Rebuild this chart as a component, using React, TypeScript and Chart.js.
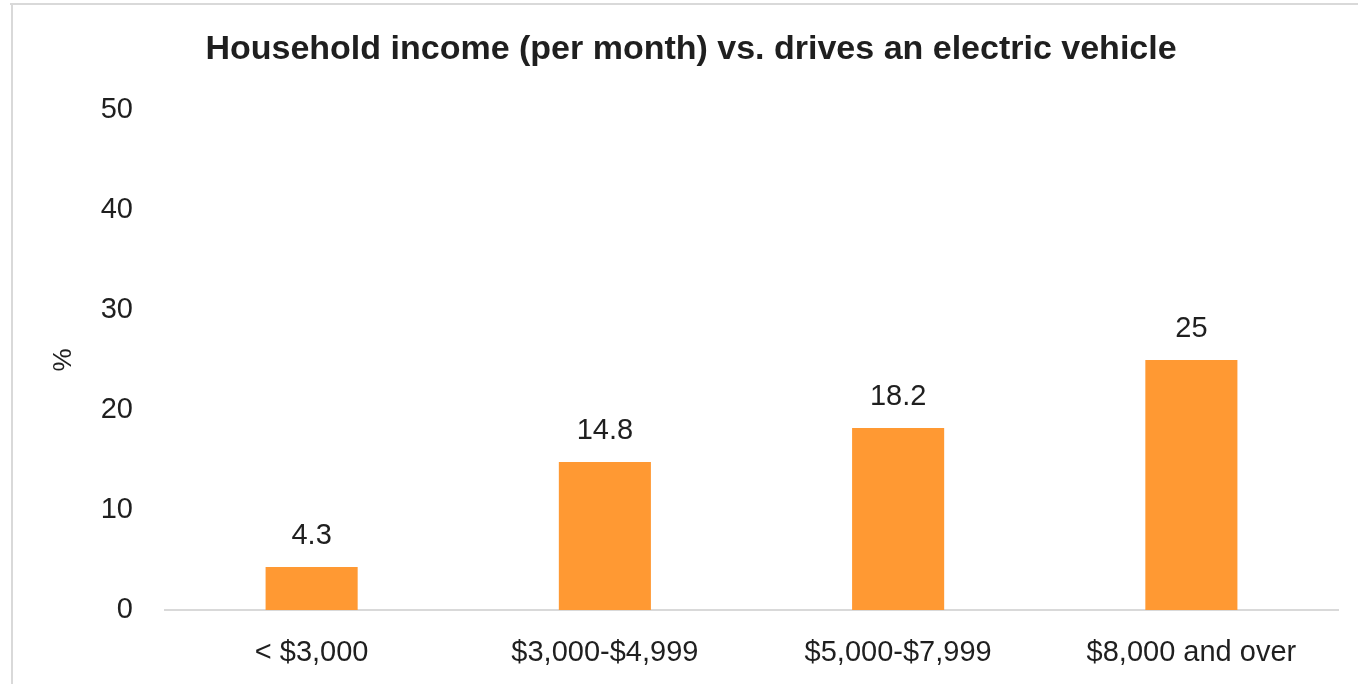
import React, { useEffect, useRef } from "react";
import { Chart, registerables } from "chart.js";

Chart.register(...registerables);

const categories = ["< $3,000", "$3,000-$4,999", "$5,000-$7,999", "$8,000 and over"];
const evShare = [4.3, 14.8, 18.2, 25];
const yTicks = [0, 10, 20, 30, 40, 50];

const TITLE = "Household income (per month) vs. drives an electric vehicle";
const FONT = "'Liberation Sans', Arial, sans-serif";
const TEXT = "#1f1f1f";
const BAR = "#FF9933";

const framePlugin = {
  id: "frame",
  beforeDraw(chart: any) {
    const { ctx, width, height } = chart;
    ctx.save();
    ctx.fillStyle = "#ffffff";
    ctx.fillRect(0, 0, width, height);
    ctx.strokeStyle = "#d9d9d9";
    ctx.lineWidth = 2;
    ctx.beginPath();
    ctx.moveTo(10, 4);
    ctx.lineTo(width, 4);
    ctx.moveTo(12, 3);
    ctx.lineTo(12, height - 1);
    ctx.stroke();
    ctx.restore();
  },
};

const valueLabels = {
  id: "valueLabels",
  afterDatasetsDraw(chart: any) {
    const { ctx } = chart;
    const meta = chart.getDatasetMeta(0);
    const data = chart.data.datasets[0].data as number[];
    ctx.save();
    ctx.font = `29px ${FONT}`;
    ctx.fillStyle = TEXT;
    ctx.textAlign = "center";
    ctx.textBaseline = "alphabetic";
    meta.data.forEach((bar: any, i: number) => {
      ctx.fillText(String(data[i]), bar.x, bar.y - 23);
    });
    ctx.restore();
  },
};

export default function App() {
  const ref = useRef<HTMLCanvasElement | null>(null);

  useEffect(() => {
    document.body.style.margin = "0";
    const canvas = ref.current;
    if (!canvas) return;
    const chart = new Chart(canvas, {
      type: "bar",
      data: {
        labels: categories,
        datasets: [
          {
            data: evShare,
            backgroundColor: BAR,
            borderWidth: 0,
            barPercentage: 0.314,
            categoryPercentage: 1,
          },
        ],
      },
      options: {
        responsive: false,
        animation: false,
        devicePixelRatio: 1,
        layout: { padding: { left: 44, right: 20, top: 0, bottom: 0 } },
        plugins: {
          legend: { display: false },
          tooltip: { enabled: false },
          title: {
            display: true,
            text: TITLE,
            color: TEXT,
            font: { family: FONT, size: 34, weight: "bold" },
            padding: { top: 29, bottom: 40 },
          },
        },
        scales: {
          x: {
            grid: { display: false, drawTicks: false },
            border: { display: true, color: "#d9d9d9", width: 2 },
            ticks: {
              color: TEXT,
              font: { family: FONT, size: 29 },
              padding: 26,
              maxRotation: 0,
              autoSkip: false,
            },
            afterFit(scale: any) {
              scale.height = 75;
            },
          },
          y: {
            min: 0,
            max: 50,
            afterBuildTicks(scale: any) {
              scale.ticks = yTicks.map((v) => ({ value: v }));
            },
            grid: { display: false, drawTicks: false },
            border: { display: false },
            ticks: {
              color: TEXT,
              font: { family: FONT, size: 29 },
              padding: 32,
            },
            title: {
              display: true,
              text: "%",
              color: TEXT,
              font: { family: FONT, size: 26 },
              padding: { top: 4, bottom: 0 },
            },
            afterFit(scale: any) {
              scale.width = 121;
            },
          },
        },
      },
      plugins: [framePlugin, valueLabels],
    });
    return () => chart.destroy();
  }, []);

  return (
    <div style={{ width: 1358, height: 685, overflow: "hidden" }}>
      <canvas ref={ref} width={1358} height={685} style={{ display: "block" }} />
    </div>
  );
}
